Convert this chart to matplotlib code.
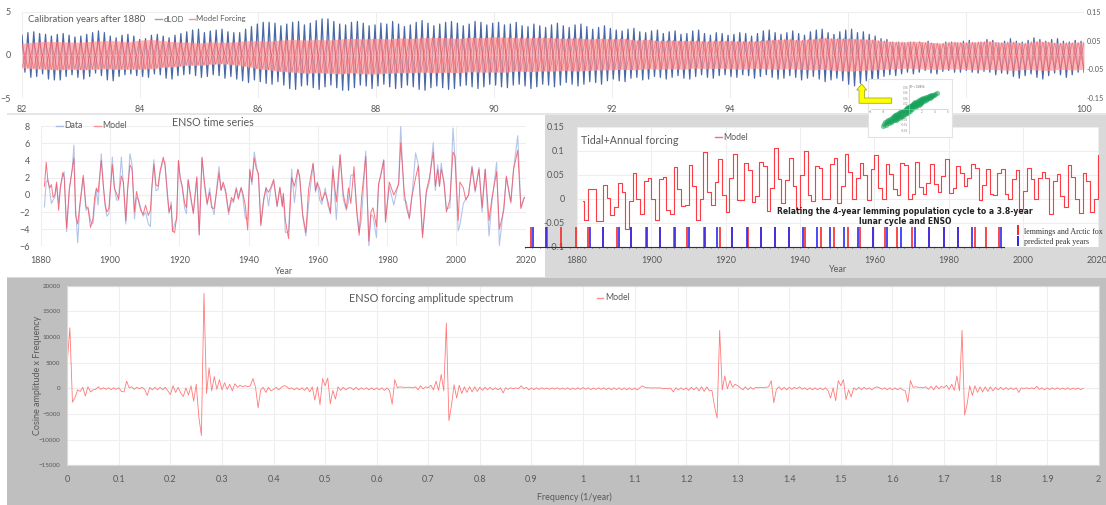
import numpy as np
import matplotlib
matplotlib.use('Agg')
import matplotlib.pyplot as plt
from matplotlib.patches import Rectangle, Polygon
from matplotlib.lines import Line2D

plt.rcParams['font.family'] = ['Lato', 'DejaVu Sans']

W, H = 1106, 505
GREY = '#595959'
GRID = '#eeeeee'

# dLOD spike tips, ten per year from 82 to 100
dlod_hi = [2.3, 2.6, 2.7, 2.5, 2.4, 2.2, 2.4, 2.5, 2.3, 2.1,
           2.2, 2.4, 2.6, 2.8, 2.6, 2.2, 2.0, 2.3, 2.4, 2.2,
           1.8, 1.9, 2.3, 2.4, 2.2, 2.0, 2.3, 2.5, 2.7, 2.9,
           3.0, 2.6, 2.8, 2.9, 3.0, 2.7, 2.6, 2.6, 3.0, 3.3,
           3.6, 3.8, 3.8, 3.7, 3.4, 3.6, 3.8, 3.9, 3.5, 3.7,
           4.0, 4.2, 4.2, 3.9, 3.6, 3.5, 3.8, 3.9, 3.7, 3.4,
           3.5, 3.7, 3.6, 3.9, 3.6, 3.3, 3.5, 3.8, 4.0, 3.7,
           3.4, 3.6, 3.8, 3.9, 3.7, 3.4, 3.6, 3.9, 3.8, 3.5,
           3.7, 3.8, 3.5, 3.6, 3.8, 3.4, 3.3, 3.6, 3.4, 3.2,
           3.5, 3.7, 3.4, 3.2, 3.5, 3.6, 3.3, 3.0, 3.2, 3.4,
           3.1, 2.9, 2.8, 3.0, 3.1, 2.7, 2.6, 2.8, 2.9, 2.5,
           2.7, 2.8, 2.4, 2.5, 2.8, 2.9, 2.5, 2.3, 2.6, 2.5,
           2.3, 2.4, 2.6, 2.5, 2.2, 2.5, 2.8, 2.9, 2.6, 2.4,
           2.6, 2.8, 2.5, 2.3, 2.7, 2.9, 3.0, 2.6, 2.4, 2.7,
           2.9, 3.0, 2.6, 2.7, 2.4, 2.2, 1.9, 1.8, 1.5, 1.5,
           1.4, 1.5, 1.3, 1.4, 1.6, 1.3, 1.2, 1.5, 1.5, 1.4,
           1.6, 1.7, 1.4, 1.5, 1.8, 1.7, 1.4, 1.6, 1.9, 1.6,
           1.5, 1.7, 2.0, 1.8, 1.6, 1.8, 1.9, 1.6, 1.5, 1.7,
           1.6]
dlod_lo = [-2.0, -2.6, -2.5, -2.2, -2.8, -2.9, -2.9, -2.5, -2.3, -2.6,
           -2.8, -2.5, -2.1, -2.4, -2.9, -3.0, -2.5, -2.3, -2.2, -2.4,
           -2.5, -2.6, -2.2, -2.3, -2.7, -2.8, -2.4, -2.3, -2.2, -2.4,
           -2.6, -2.5, -2.3, -2.4, -2.7, -2.5, -2.8, -3.0, -3.2, -2.9,
           -3.1, -3.3, -3.4, -3.1, -3.5, -3.9, -4.0, -3.6, -3.5, -3.8,
           -4.0, -3.7, -3.5, -3.8, -4.1, -4.1, -3.8, -3.5, -3.6, -3.9,
           -3.6, -3.4, -3.7, -3.9, -3.8, -3.5, -3.7, -4.0, -4.1, -3.8,
           -3.6, -3.8, -4.0, -3.9, -3.6, -3.5, -3.7, -3.9, -3.7, -3.4,
           -3.5, -3.7, -3.8, -3.5, -3.4, -3.6, -3.9, -3.7, -3.4, -3.5,
           -3.7, -3.5, -3.2, -3.4, -3.6, -3.4, -3.1, -3.2, -3.4, -3.0,
           -2.8, -3.0, -3.1, -2.7, -2.6, -2.9, -2.8, -2.5, -2.6, -2.8,
           -2.6, -2.4, -2.7, -2.8, -2.5, -2.3, -2.6, -2.7, -2.4, -2.3,
           -2.5, -2.6, -2.3, -2.4, -2.7, -2.5, -2.3, -2.6, -2.8, -2.7,
           -2.4, -2.6, -2.9, -2.7, -2.5, -2.8, -3.1, -2.9, -2.7, -3.0,
           -3.4, -3.6, -3.3, -3.0, -3.2, -2.9, -2.5, -2.3, -2.4, -2.2,
           -2.0, -2.2, -2.0, -1.8, -2.1, -2.2, -1.9, -1.8, -2.0, -2.0,
           -1.8, -2.0, -2.1, -1.9, -2.0, -2.3, -2.1, -2.2, -2.5, -2.7,
           -2.4, -2.2, -2.6, -2.8, -2.4, -2.1, -2.3, -2.6, -2.3, -2.0,
           -2.0]

# model forcing band, five per year, right axis units
forcing_hi = [.040, .045, .048, .047, .045, .045, .048, .050, .050, .046,
              .052, .054, .050, .046, .045, .042, .046, .044, .046, .050,
              .050, .048, .052, .054, .052, .054, .052, .056, .058, .056,
              .058, .056, .060, .058, .060, .062, .060, .058, .062, .060,
              .064, .062, .060, .060, .062, .060, .058, .060, .056, .058,
              .056, .058, .052, .054, .050, .052, .050, .050, .048, .050,
              .050, .048, .048, .052, .054, .056, .052, .056, .060, .058,
              .058, .056, .054, .050, .046, .046, .048, .044, .042, .046,
              .044, .046, .048, .044, .046, .042, .048, .046, .042, .044,
              .045]
forcing_lo = [-.045, -.048, -.050, -.052, -.050, -.052, -.050, -.048, -.050, -.050,
              -.050, -.048, -.042, -.040, -.036, -.036, -.032, -.030, -.034, -.040,
              -.048, -.052, -.058, -.060, -.064, -.062, -.064, -.066, -.062, -.066,
              -.066, -.064, -.062, -.062, -.060, -.062, -.060, -.062, -.058, -.060,
              -.060, -.060, -.056, -.058, -.056, -.056, -.054, -.056, -.054, -.052,
              -.052, -.050, -.052, -.048, -.050, -.048, -.050, -.046, -.048, -.046,
              -.048, -.050, -.046, -.048, -.050, -.048, -.050, -.052, -.050, -.054,
              -.056, -.054, -.052, -.050, -.048, -.046, -.048, -.050, -.050, -.048,
              -.050, -.052, -.050, -.052, -.054, -.050, -.052, -.054, -.050, -.052,
              -.050]

# ENSO time series turning points
enso_years = [1881, 1881.5, 1882, 1882.5, 1883, 1883.5, 1884, 1884.5, 1885.1, 1885.6,
              1886.3, 1886.7, 1887.4, 1888.2, 1889, 1889.5, 1890, 1890.6, 1891.2, 1892.2,
              1893, 1893.6, 1894.3, 1895, 1895.5, 1896, 1896.5, 1897.4, 1898, 1898.5,
              1899, 1899.6, 1900.6, 1901.2, 1901.8, 1902.4, 1903.2, 1903.8, 1904.5, 1905,
              1905.7, 1906.3, 1907, 1907.6, 1908.2, 1908.8, 1909.5, 1910.2, 1911, 1911.6,
              1912, 1912.6, 1913.2, 1913.8, 1914.4, 1915.3, 1915.8, 1916.5, 1917, 1917.6,
              1918, 1918.6, 1919.2, 1919.7, 1920.2, 1920.8, 1921.5, 1922, 1922.5, 1923.2,
              1924, 1924.6, 1925, 1925.7, 1926.5, 1927.2, 1928, 1928.7, 1929.3, 1930,
              1930.7, 1931.4, 1932, 1932.6, 1933.3, 1934.2, 1935, 1935.6, 1936.4, 1937,
              1937.8, 1938.3, 1939, 1939.7, 1940.3, 1940.9, 1941.6, 1942.2, 1942.8, 1943.5,
              1944.3, 1945, 1945.7, 1946.3, 1947.2, 1948.2, 1949, 1949.7, 1950, 1950.6,
              1951.5, 1952.4, 1953.2, 1954.2, 1954.7, 1955.6, 1956.5, 1957.3, 1958.6, 1959.3,
              1959.8, 1960.5, 1961.1, 1962.1, 1962.9, 1963.6, 1964.3, 1965.3, 1966.4, 1967.3,
              1968.2, 1968.8, 1969.5, 1970.4, 1971.2, 1971.9, 1972.6, 1973.8, 1974.7, 1975.3,
              1975.9, 1976.9, 1977.5, 1978.3, 1979, 1979.5, 1980.6, 1981.9, 1983.3, 1983.9,
              1984.9, 1985.5, 1986.4, 1987, 1988.2, 1989, 1990.2, 1991.3, 1992.2, 1993.3,
              1993.9, 1994.6, 1995.1, 1995.6, 1996.4, 1997.1, 1998.1, 1999, 1999.6, 2000.5,
              2001, 2002, 2002.7, 2003.5, 2004.5, 2005.4, 2006.5, 2007.4, 2008.3, 2009.4,
              2010.2, 2011.6, 2012.4, 2013.7, 2014.4, 2015.7, 2016.5, 2017.7, 2018.6, 2019.6]
enso_model = [1.0, 3.8, 1.6, 0.8, 1.2, -0.3, 0.0, 1.5, -1.8, 0.9,
              2.6, 2.0, -3.9, 0.8, 3.0, 4.3, -2.4, -3.4, -1.2, 2.3,
              -1.4, -1.6, -3.8, -2.8, -0.3, 0.8, 0.3, 4.0, 1.0, -1.0,
              -2.0, -1.6, 3.5, 0.8, 0.2, -0.5, 2.2, 1.5, -3.0, 0.6,
              3.5, 3.0, -2.0, 0.4, -0.8, -1.8, -2.3, -1.2, -2.4, -1.8,
              0.8, 3.6, 1.2, 1.0, 2.8, 4.4, 3.5, 0.3, -2.0, -1.2,
              -4.2, -4.4, -2.5, 4.0, 2.0, 1.0, -1.0, -1.5, 1.8, 0.0,
              -2.2, 0.4, 2.1, -4.7, 4.4, 1.5, -1.0, 0.3, -1.5, -1.6,
              0.3, 2.6, 0.5, 1.5, 0.6, -2.0, -0.3, -0.7, 0.7, -0.5,
              0.8, 0.2, -1.2, -4.1, 3.0, 1.5, 4.3, 3.0, 2.5, -3.6,
              -0.5, 0.8, 0.3, 0.8, 1.8, -1.3, 0.9, -1.4, 0.2, -3.0,
              -5.1, 2.0, 1.0, 3.0, 2.2, -2.3, -4.4, 0.7, 3.7, 0.5,
              1.4, 0.7, -0.7, 0.3, -0.8, -2.2, 3.0, -0.8, 4.7, 0.1,
              -1.6, 0.8, -1.0, 3.3, -2.0, -4.7, -0.3, 4.5, -5.4, -2.0,
              -1.5, -3.7, 1.3, 2.5, 4.1, -3.2, 1.5, 0.0, 1.2, 6.1,
              0.4, -1.4, -2.8, -0.5, 2.0, 3.4, -5.0, 0.5, 2.0, 5.0,
              1.0, 3.0, 1.0, 3.0, 1.5, -2.0, -0.6, 5.0, 4.5, -3.0,
              1.5, 0.8, -0.6, 0.0, 3.2, 0.5, 3.0, -1.5, 3.0, -3.0,
              -0.5, 2.7, -4.0, -1.7, 2.2, -0.8, 3.0, 5.2, -1.6, -0.3]
enso_data = [-1.4, 1.5, 1.8, 0.5, -1.0, -0.6, -0.3, 1.2, -1.0, 0.8,
             2.3, 2.7, -4.3, 0.6, 2.9, 5.8, -1.5, -5.6, -1.5, 2.0,
             -1.8, -1.4, -3.0, -3.4, -1.2, 0.6, -1.2, 4.8, 1.2, -1.2,
             -2.5, -2.2, 4.4, 0.9, -0.6, -0.6, 4.4, 1.2, -3.4, 0.4,
             4.8, 3.5, -2.8, -0.3, -0.6, -1.5, -2.5, -2.0, -3.4, -3.7,
             0.5, 4.1, 0.5, 0.6, 2.6, 4.0, 3.8, -0.2, -2.2, -0.8,
             -4.3, -3.4, -2.8, 4.0, 2.0, 0.8, -1.6, -2.2, 1.7, -0.4,
             -2.0, 0.2, 2.0, -4.6, 4.3, 1.0, -1.2, 0.8, -1.2, -2.3,
             0.6, 3.3, 0.6, 1.2, 0.3, -2.3, -0.6, -0.9, 0.9, -0.3,
             0.9, -0.2, -2.7, -2.9, 2.8, 1.2, 5.0, 3.5, 2.2, -3.4,
             -0.8, 0.9, -1.3, 0.5, 1.6, -1.4, 0.8, -1.2, 0.0, -4.4,
             -4.3, 3.0, -0.9, 2.9, 2.0, -2.6, -4.8, -1.0, 3.6, 0.3,
             1.5, -0.6, -1.1, 0.8, -1.3, -2.0, 3.4, -2.9, 4.6, -0.5,
             -1.8, -0.8, 2.3, 2.3, -1.7, -4.4, -2.7, 5.1, -6.0, -2.3,
             -2.5, -5.0, 1.0, 2.8, 4.0, -3.0, 1.0, -1.2, 1.5, 8.0,
             -0.6, -0.8, -2.6, -0.8, 4.9, 3.5, -4.6, 0.2, 1.5, 6.1,
             0.5, 3.5, 1.0, 3.7, 1.3, -1.6, -1.5, 7.8, 4.0, -4.2,
             -3.5, -1.0, -0.5, 0.0, 3.4, 0.3, 3.2, -2.0, 3.0, -4.8,
             -1.0, 3.8, -5.9, -1.2, 2.0, -1.0, 3.0, 6.9, -1.4, -0.3]

# tidal + annual forcing, one level a year
tidal_years = [1881.6] + list(range(1882, 2021))
tidal_values = [-.005, -.045, .021, .021, -.047, -.047, .028, .002, -.034, -.018,
                .032, .015, -.063, -.004, .053, .000, -.031, .037, .044, .000,
                -.045, .042, .045, -.023, -.032, .067, .021, -.015, -.014, .070,
                .027, -.045, .000, .097, .013, -.013, .034, .084, .008, -.027,
                .043, .093, -.003, -.002, .075, .061, -.006, .006, .077, .068,
                -.025, .022, .107, .041, -.008, .040, .086, .026, -.021, .049,
                .100, .008, -.004, .068, .065, .000, .000, .072, .086, -.009,
                .026, .093, .055, -.001, .044, .075, .049, -.003, .063, .091,
                .022, -.001, .072, .051, .020, .007, .075, .070, .000, .010,
                .077, .024, .010, .033, .073, .031, .014, .047, .084, .012,
                .022, .068, .054, .026, .044, .073, .064, -.003, .029, .063,
                .010, .007, .054, .063, .010, -.001, .042, .061, -.021, .016,
                .064, .042, .000, .043, .056, .044, -.032, .038, .051, .005,
                -.017, .070, .045, -.001, -.030, .054, .036, -.027, -.001, .091]

# pasted lemming chart, peak years
lemming_years = [1867.6, 1872.0, 1875.8, 1879.6, 1883.0, 1887.1, 1890.8, 1894.6, 1898.5, 1902.4,
                 1906.1, 1909.5, 1914.2, 1918.4, 1921.7, 1926.0, 1929.6, 1933.2, 1937.0, 1941.3,
                 1945.5, 1949.0, 1952.8, 1956.0, 1959.5, 1962.9, 1966.0, 1970.2, 1974.8, 1978.7,
                 1982.6, 1987.1, 1990.0, 1993.4]
predicted_years = [1868.2, 1871.7, 1883.4, 1887.1, 1891.2, 1894.6, 1898.7, 1902.4, 1906.3, 1910.1,
                   1914.4, 1917.7, 1921.7, 1925.6, 1929.4, 1933.2, 1937.0, 1940.8, 1944.6, 1948.1,
                   1951.8, 1955.7, 1959.7, 1963.3, 1967.2, 1970.9, 1974.8, 1978.7, 1982.6, 1986.2,
                   1994.0]

# spectrum, one value each 0.005 per year, twenty a row
spec_step = 0.005
spec_values = [5300, 11800, -2700, -1800, -300, -600, 200, -1500, 300, -700, -300, -200, 300, -200, 100, -200, 100, -250, 100, -200,
               100, -600, -700, 1400, 100, 300, -200, 200, -100, 200, -200, -1400, 200, -300, 200, -300, 200, -300, 200, -500,
               -1200, 500, -800, 200, -900, -1600, 100, -1300, 500, -2500, 800, -5500, -9200, 18500, -1000, 4000, -500, 2300, -200, 1700,
               -300, 1100, -200, 800, -500, 900, 200, 600, 300, 500, 300, 500, 1900, 200, -3800, -300, 200, -800, 200, -500,
               -200, 200, -300, 200, 500, 400, -100, 100, -300, 100, -300, 100, -400, 200, -700, 300, -2300, 300, -3200, 1900,
               500, 2000, -3000, -400, -2100, 300, -400, 200, -300, 100, 100, -300, 200, -300, 100, -200, 100, -300, 100, -300,
               100, -300, 100, -400, 100, -500, -3100, 1700, 100, 300, 200, 200, 200, 200, 100, 300, -300, 500, -100, 300,
               100, 600, -300, 1400, -400, 2700, -500, 12700, -6300, -3300, 700, -1900, 600, -1000, 300, -800, 300, -700, 300, -600,
               200, -400, 200, -300, 200, -300, 100, -300, 100, -900, 100, -200, 100, -100, 100, -100, 500, -100, 200, -300,
               100, -250, 100, -200, 100, -150, 50, -200, 100, -150, 100, -200, 50, -200, 100, -250, 50, -200, 100, -200,
               150, -200, 100, -250, 50, -200, 100, -200, 100, -250, 100, -300, 100, -250, 100, -300, 100, -300, 100, -300,
               50, -300, 100, 500, 200, 100, 100, 50, 100, 50, 100, -100, 0, -100, 50, -700, 100, -300, 100, -300,
               100, -400, 200, -300, 200, -500, 300, -600, 300, -500, -400, -3500, -5800, 11300, -300, 2400, -100, 1500, 200, 800,
               500, 100, -300, 300, -300, 200, -200, 200, 100, 200, 100, 200, 300, 1500, -2800, -200, 300, -300, 200, -300,
               200, -200, 200, -100, 300, -200, 100, -300, 100, -300, 100, -300, 100, -300, 100, -400, -1900, 100, -2400, 1500,
               500, 1700, -2200, -300, -1700, 100, -300, 200, -300, 200, -200, 100, -300, 100, 300, 100, -200, 100, -300, 100,
               -300, 100, -300, 100, -300, -500, -2700, 1500, 200, 300, 200, 200, 100, 300, -200, 400, -300, 500, -100, 400,
               100, 600, -200, 800, -400, 2400, -500, 11300, -5200, -3000, 500, -1400, 500, -800, 300, -700, 300, -600, 300, -500,
               200, -300, 200, -300, 150, -250, 100, -250, 100, -800, 100, -100, 100, -100, 100, -100, 400, -200, 100, -300,
               100, -250, 100, -200, 100, -200, 50, -200, 100, -250, 50, -200, 50, -250, 0]

# scatter inset pasted on the figure
scatter_x = [-4.1, -3.9, -3.8, -3.6, -3.5, -3.4, -3.2, -3.1, -3.0, -2.9, -2.8, -2.7, -2.6, -2.5, -2.4,
             -2.4, -2.3, -2.2, -2.1, -2.0, -2.0, -1.9, -1.8, -1.8, -1.7, -1.6, -1.5, -1.5, -1.4, -1.3,
             -1.3, -1.2, -1.1, -1.1, -1.0, -0.9, -0.9, -0.8, -0.7, -0.7, -0.6, -0.5, -0.5, -0.4, -0.3,
             -0.3, -0.2, -0.1, -0.1, 0.0, 0.1, 0.1, 0.2, 0.3, 0.3, 0.4, 0.5, 0.5, 0.6, 0.7,
             0.7, 0.8, 0.9, 0.9, 1.0, 1.1, 1.1, 1.2, 1.3, 1.3, 1.4, 1.5, 1.5, 1.6, 1.7,
             1.8, 1.8, 1.9, 2.0, 2.1, 2.1, 2.2, 2.3, 2.4, 2.5, 2.6, 2.7, 2.8, 2.9, 3.0,
             3.1, 3.2, 3.3, 3.4, 3.5, 3.6, 3.7, 3.9, 4.1, 4.3]
scatter_y = [-.062, -.058, -.050, -.060, -.046, -.054, -.040, -.052, -.044, -.036, -.048, -.034, -.044, -.030, -.042,
             -.028, -.038, -.024, -.040, -.022, -.034, -.030, -.018, -.036, -.026, -.014, -.032, -.020, -.012, -.026,
             -.030, -.010, -.022, -.016, -.006, -.026, -.012, -.018, -.004, -.020, -.010, 0.000, -.016, -.006, .004,
             -.014, 0.002, -.010, .008, -.004, .006, .012, -.006, .010, .002, .016, 0.000, .012, .020, .006,
             .014, .022, .008, .018, .026, .012, .020, .028, .016, .024, .030, .014, .022, .034, .020,
             .030, .036, .024, .038, .028, .034, .040, .030, .036, .042, .034, .044, .036, .046, .040,
             .048, .042, .050, .044, .052, .048, .054, .052, .058, .060]
scatter_ticks_x = [-6, -4, 2, 4, 6]
scatter_ticks_y = [-.08, -.06, -.04, -.02, .02, .04, .06, .08]


def axes_px(x0, y0, x1, y1, **kw):
    return fig.add_axes([x0 / W, 1 - y1 / H, (x1 - x0) / W, (y1 - y0) / H], **kw)


def text_px(x, y, s, size, ha='left', va='center', color=GREY, **kw):
    fig.text(x / W, 1 - y / H, s, fontsize=size, ha=ha, va=va, color=color, **kw)


def key_px(x0, x1, y, color, lw=1.0):
    fig.add_artist(Line2D([x0 / W, x1 / W], [1 - y / H, 1 - y / H], color=color, lw=lw, zorder=20))


def clean(ax, label_size):
    for side in ax.spines:
        ax.spines[side].set_visible(False)
    ax.tick_params(length=0, labelsize=label_size, colors=GREY)
    ax.grid(True, color=GRID, lw=0.8)
    ax.set_axisbelow(True)


fig = plt.figure(figsize=(W / 100, H / 100), dpi=100)
fig.patch.set_facecolor('white')

# panel backgrounds
for x0, y0, x1, y1, col in [(7, 113, W, 115, '#e6e6e6'),
                            (545, 115, W, 278, '#d9d9d9'),
                            (7, 277, 545, 278, '#d9d9d9'),
                            (7, 278, W, H, '#bfbfbf')]:
    fig.add_artist(Rectangle((x0 / W, 1 - y1 / H), (x1 - x0) / W, (y1 - y0) / H,
                             transform=fig.transFigure, color=col, lw=0, zorder=-1))

# top panel
ax = axes_px(22, 12, 1084, 98)
clean(ax, 6.5)
ax.patch.set_alpha(0)
x_dlod = np.linspace(82, 100, 2 * len(dlod_hi))
y_dlod = np.column_stack([dlod_hi, dlod_lo]).ravel()
ax.plot(x_dlod, y_dlod, color='#4a68a6', lw=0.9)
ax.set_xlim(82, 100)
ax.set_ylim(-5, 5)
ax.set_xticks(range(82, 101, 2))
ax.set_yticks([-5, 0, 5])
ax.tick_params(axis='x', pad=5)
ax.tick_params(axis='y', pad=8)
ax.axhline(0, color='#dddddd', lw=0.8)

ax2 = ax.twinx()
for side in ax2.spines:
    ax2.spines[side].set_visible(False)
x_band = np.linspace(82, 100, len(forcing_hi))
ax2.fill_between(x_band, forcing_lo, forcing_hi, color='#ff9a9a', alpha=0.72, lw=0)
x_zig = np.linspace(82, 100, 2 * len(forcing_hi))
ax2.plot(x_zig, np.column_stack([forcing_hi, forcing_lo]).ravel(), color='#f04050', lw=0.5, alpha=0.6)
ax2.plot(x_zig, np.column_stack([forcing_lo, forcing_hi]).ravel(), color='#f04050', lw=0.5, alpha=0.6)
ax2.set_ylim(-0.15, 0.15)
ax2.set_yticks([-0.15, -0.05, 0.05, 0.15])
ax2.set_yticklabels(['-0.15', '-0.05', '0.05', '0.15'])
ax2.tick_params(length=0, labelsize=5.2, colors=GREY, pad=2)

text_px(28, 20, 'Calibration years after 1880', 6.8)
key_px(155, 162, 19, '#8ea3c9')
text_px(164, 19, 'dLOD', 5.6)
key_px(189, 195, 19, '#ff8f8f')
text_px(196, 19, 'Model Forcing', 5.6)

# ENSO time series
ax = axes_px(41, 126.3, 525.7, 246.3)
clean(ax, 6.5)
ax.plot(enso_years, enso_data, color='#b3c4ea', lw=0.8)
ax.plot(enso_years, enso_model, color='#f8505f', lw=0.7, alpha=0.8)
ax.axhline(0, color='#dddddd', lw=0.8, zorder=0)
ax.set_xlim(1880, 2020)
ax.set_ylim(-6, 8)
ax.set_xticks(range(1880, 2021, 20))
ax.set_yticks(range(-6, 9, 2))
ax.tick_params(axis='x', pad=7)
ax.tick_params(axis='y', pad=8)
key_px(56, 63, 126, '#a9bce6')
text_px(64, 126, 'Data', 6.3)
key_px(94, 101, 126, '#ff8f8f')
text_px(102, 126, 'Model', 6.3)
text_px(172, 123, 'ENSO time series', 7.7)
text_px(275, 271, 'Year', 6.5)

# tidal forcing with the lemming chart over it
ax = axes_px(577, 127, 1099, 246.5, facecolor='white')
clean(ax, 6.5)
ax.step(tidal_years, tidal_values, where='post', color='#fb3c44', lw=0.8)
ax.set_xlim(1880, 2020.4)
ax.set_ylim(-0.1, 0.15)
ax.set_xticks(range(1880, 2021, 20))
ax.set_yticks([-0.1, -0.05, 0, 0.05, 0.1, 0.15])
ax.set_yticklabels(['-0.1', '-0.05', '0', '0.05', '0.1', '0.15'])
ax.tick_params(axis='x', pad=7)
ax.tick_params(axis='y', pad=9)
ax.vlines(lemming_years, -0.1, -0.06, color='#f52a2a', lw=1.4, alpha=0.85, clip_on=False, zorder=4)
ax.vlines(predicted_years, -0.1, -0.06, color='#2a2af5', lw=1.4, alpha=0.85, clip_on=False, zorder=5)
ax.plot([1866, 1994.8], [-0.1, -0.1], color='#333333', lw=0.8, clip_on=False, zorder=6)
ax.vlines(np.arange(1866, 1995, 2), -0.1, -0.103, color='#333333', lw=0.5, clip_on=False, zorder=6)
text_px(581, 141, 'Tidal+Annual forcing', 7.7)
key_px(715, 722, 137, '#ff6a6a')
text_px(723, 137, 'Model', 6.3)
text_px(829, 270, 'Year', 6.5)
text_px(905, 216.5, 'Relating the 4-year lemming population cycle to a 3.8-year\nlunar cycle and ENSO',
        5.5, ha='center', color='#222222', family='DejaVu Sans', weight='bold', linespacing=1.15, zorder=20)
fig.add_artist(Rectangle((1017 / W, 1 - 235 / H), 2 / W, 10 / H, transform=fig.transFigure,
                         color='#f52a2a', lw=0, zorder=20))
fig.add_artist(Rectangle((1017 / W, 1 - 246 / H), 2 / W, 10 / H, transform=fig.transFigure,
                         color='#2a2af5', lw=0, zorder=20))
text_px(1024, 232, 'lemmings and Arctic fox', 5.7, color='#333333', family='Liberation Serif', zorder=20)
text_px(1024, 242, 'predicted peak years', 5.7, color='#333333', family='Liberation Serif', zorder=20)

# spectrum
ax = axes_px(67.3, 285.7, 1098.7, 465.3, facecolor='white')
clean(ax, 6.5)
spec_freq = np.arange(len(spec_values)) * spec_step
ax.plot(spec_freq, spec_values, color='#ff7a7a', lw=0.6)
ax.axhline(0, color='#dddddd', lw=0.8, zorder=0)
ax.set_xlim(0, 2)
ax.set_ylim(-15000, 20000)
ax.set_xticks(np.arange(0, 2.01, 0.1))
ax.set_xticklabels(['0', '0.1', '0.2', '0.3', '0.4', '0.5', '0.6', '0.7', '0.8', '0.9', '1',
                    '1.1', '1.2', '1.3', '1.4', '1.5', '1.6', '1.7', '1.8', '1.9', '2'])
ax.set_yticks(range(-15000, 20001, 5000))
ax.tick_params(axis='y', labelsize=4.5, pad=5)
ax.tick_params(axis='x', pad=7)
for side in ax.spines:
    ax.spines[side].set_visible(True)
    ax.spines[side].set_color('#d9d9d9')
text_px(349, 298, 'ENSO forcing amplitude spectrum', 7.8)
key_px(597, 603, 298, '#ff8f8f')
text_px(605, 298, 'Model', 6.3)
text_px(574, 497, 'Frequency (1/year)', 6.4, ha='center')
text_px(37, 375, 'Cosine amplitude x Frequency', 6.5, ha='center', rotation=90)

# scatter inset and arrow
ax = axes_px(867.5, 79, 951.5, 137, facecolor='white', zorder=30)
for side in ax.spines:
    ax.spines[side].set_color('#e3e3e3')
    ax.spines[side].set_linewidth(0.8)
ax.set_xticks([])
ax.set_yticks([])
sc = axes_px(870.5, 85, 947.5, 133, zorder=31)
sc.patch.set_alpha(0)
sc.scatter(scatter_x, scatter_y, s=14, color='#16a35a', alpha=0.55, lw=0)
sc.set_xlim(-6, 6)
sc.set_ylim(-.09, .09)
sc.spines['top'].set_visible(False)
sc.spines['right'].set_visible(False)
sc.spines['left'].set_position('zero')
sc.spines['bottom'].set_position('zero')
sc.spines['left'].set_color('#bbbbbb')
sc.spines['bottom'].set_color('#bbbbbb')
sc.spines['left'].set_linewidth(0.4)
sc.spines['bottom'].set_linewidth(0.4)
sc.set_xticks(scatter_ticks_x)
sc.set_yticks(scatter_ticks_y)
sc.tick_params(length=0, labelsize=2, colors='#888888', pad=0.5)
sc.text(0.2, 0.082, 'R² = 0.8456', fontsize=2, color='#666666', va='center')

arrow = [(861.7, 84), (866.7, 90), (864.5, 90), (864.5, 98), (891.7, 98), (891.7, 103.3),
         (859, 103.3), (859, 90), (856.7, 90)]
fig.add_artist(Polygon([(px / W, 1 - py / H) for px, py in arrow], closed=True, transform=fig.transFigure,
                       facecolor='#ffff00', edgecolor='#a8a830', lw=0.6, zorder=40))

fig.savefig('out.png', dpi=100)
